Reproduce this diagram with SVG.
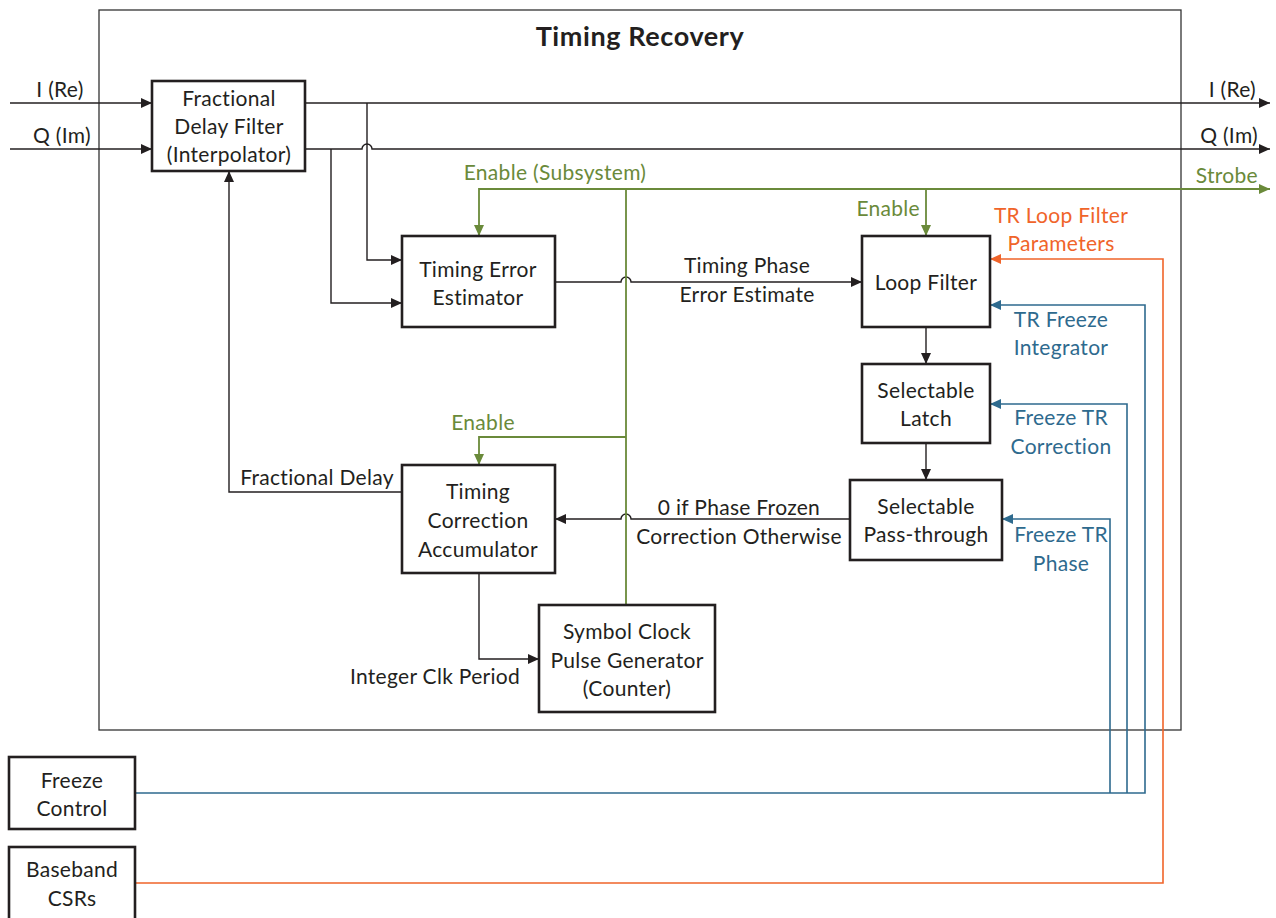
<svg xmlns="http://www.w3.org/2000/svg" width="1276" height="918" viewBox="0 0 1276 918">
<style>
text{font-family:Lato,"Open Sans","Liberation Sans",sans-serif;font-size:21px;letter-spacing:0.3px;fill:#231f20;text-anchor:middle}
.t{font-weight:bold;font-size:27px;letter-spacing:0.6px}
.g{fill:#6a8a3a}.o{fill:#f0642a}.b{fill:#2e6a8e}
.box{fill:#fff;stroke:#231f20;stroke-width:2.6}
.frame{fill:none;stroke:#333;stroke-width:1.3}
.k{fill:none;stroke:#231f20;stroke-width:1.4}
.gl{fill:none;stroke:#6a8a3a;stroke-width:1.8}
.ol{fill:none;stroke:#f0642a;stroke-width:1.6}
.bl{fill:none;stroke:#2e6a8e;stroke-width:1.6}
</style>
<defs>
<marker id="ak" markerUnits="userSpaceOnUse" markerWidth="12" markerHeight="10" refX="11" refY="5" orient="auto"><path d="M0,0L11,5L0,10z" fill="#231f20"/></marker>
<marker id="ag" markerUnits="userSpaceOnUse" markerWidth="12" markerHeight="10" refX="11" refY="5" orient="auto"><path d="M0,0L11,5L0,10z" fill="#6a8a3a"/></marker>
<marker id="ao" markerUnits="userSpaceOnUse" markerWidth="12" markerHeight="10" refX="11" refY="5" orient="auto"><path d="M0,0L11,5L0,10z" fill="#f0642a"/></marker>
<marker id="ab" markerUnits="userSpaceOnUse" markerWidth="12" markerHeight="10" refX="11" refY="5" orient="auto"><path d="M0,0L11,5L0,10z" fill="#2e6a8e"/></marker>
</defs>
<rect width="1276" height="918" fill="#fff"/>
<g id="timing-recovery">
<rect class="frame" x="99" y="10" width="1082" height="720"/>
<text class="t" x="640" y="46">Timing Recovery</text>
</g>
<g id="connectors">
<path class="k" d="M10,103H152" marker-end="url(#ak)"/>
<path class="k" d="M10,149H152" marker-end="url(#ak)"/>
<path class="k" d="M305,103H1270" marker-end="url(#ak)"/>
<path class="k" d="M305,149H362a5,5 0 0 1 10,0H1270" marker-end="url(#ak)"/>
<path class="k" d="M367,103V260H402" marker-end="url(#ak)"/>
<path class="k" d="M331,149V303H402" marker-end="url(#ak)"/>
<path class="k" d="M555,282H621a5,5 0 0 1 10,0H862" marker-end="url(#ak)"/>
<path class="k" d="M926,327V364" marker-end="url(#ak)"/>
<path class="k" d="M926,443V480" marker-end="url(#ak)"/>
<path class="k" d="M850,519H631a5,5 0 0 0 -10,0H555" marker-end="url(#ak)"/>
<path class="k" d="M402,492H229V171" marker-end="url(#ak)"/>
<path class="k" d="M479,573V659H539" marker-end="url(#ak)"/>
<path class="gl" d="M626,605V189H1270" marker-end="url(#ag)"/>
<path class="gl" d="M626,189H479V236" marker-end="url(#ag)"/>
<path class="gl" d="M926,189V236" marker-end="url(#ag)"/>
<path class="gl" d="M626,437H479V465" marker-end="url(#ag)"/>
<path class="ol" d="M135,883H1163V259H990" marker-end="url(#ao)"/>
<path class="bl" d="M135,793H1145V305H990" marker-end="url(#ab)"/>
<path class="bl" d="M1127,793V404H990" marker-end="url(#ab)"/>
<path class="bl" d="M1110,793V519H1002" marker-end="url(#ab)"/>
</g>
<g id="labels">
<text x="60" y="97">I (Re)</text>
<text x="62" y="143">Q (Im)</text>
<text x="1256" y="97" style="text-anchor:end">I (Re)</text>
<text x="1258" y="143" style="text-anchor:end">Q (Im)</text>
<text class="g" x="1258" y="183" style="text-anchor:end">Strobe</text>
<text class="g" x="555" y="180">Enable (Subsystem)</text>
<text class="g" x="920" y="216" style="text-anchor:end">Enable</text>
<text class="g" x="483" y="430">Enable</text>
<text x="747" y="273">Timing Phase</text>
<text x="747" y="302">Error Estimate</text>
<text x="739" y="515">0 if Phase Frozen</text>
<text x="739" y="544">Correction Otherwise</text>
<text x="317" y="485">Fractional Delay</text>
<text x="435" y="684">Integer Clk Period</text>
<text class="o" x="1061" y="223">TR Loop Filter</text>
<text class="o" x="1061" y="251">Parameters</text>
<text class="b" x="1061" y="327">TR Freeze</text>
<text class="b" x="1061" y="355">Integrator</text>
<text class="b" x="1061" y="425">Freeze TR</text>
<text class="b" x="1061" y="454">Correction</text>
<text class="b" x="1061" y="542">Freeze TR</text>
<text class="b" x="1061" y="571">Phase</text>
</g>
<g id="fractional-delay-filter">
<rect class="box" x="152" y="81" width="153" height="90"/>
<text x="229" y="106">Fractional</text>
<text x="229" y="134">Delay Filter</text>
<text x="229" y="162">(Interpolator)</text>
</g>
<g id="timing-error-estimator">
<rect class="box" x="402" y="236" width="153" height="91"/>
<text x="478" y="277">Timing Error</text>
<text x="478" y="305">Estimator</text>
</g>
<g id="loop-filter">
<rect class="box" x="862" y="236" width="128" height="91"/>
<text x="926" y="290">Loop Filter</text>
</g>
<g id="selectable-latch">
<rect class="box" x="862" y="364" width="128" height="79"/>
<text x="926" y="398">Selectable</text>
<text x="926" y="426">Latch</text>
</g>
<g id="selectable-pass-through">
<rect class="box" x="850" y="480" width="152" height="80"/>
<text x="926" y="514">Selectable</text>
<text x="926" y="542">Pass-through</text>
</g>
<g id="timing-correction-accumulator">
<rect class="box" x="402" y="465" width="153" height="108"/>
<text x="478" y="499">Timing</text>
<text x="478" y="528">Correction</text>
<text x="478" y="557">Accumulator</text>
</g>
<g id="symbol-clock-pulse-generator">
<rect class="box" x="539" y="605" width="176" height="107"/>
<text x="627" y="639">Symbol Clock</text>
<text x="627" y="668">Pulse Generator</text>
<text x="627" y="696">(Counter)</text>
</g>
<g id="freeze-control">
<rect class="box" x="9" y="757" width="126" height="72"/>
<text x="72" y="788">Freeze</text>
<text x="72" y="816">Control</text>
</g>
<g id="baseband-csrs">
<rect class="box" x="9" y="847" width="126" height="80"/>
<text x="72" y="877">Baseband</text>
<text x="72" y="906">CSRs</text>
</g>
</svg>
